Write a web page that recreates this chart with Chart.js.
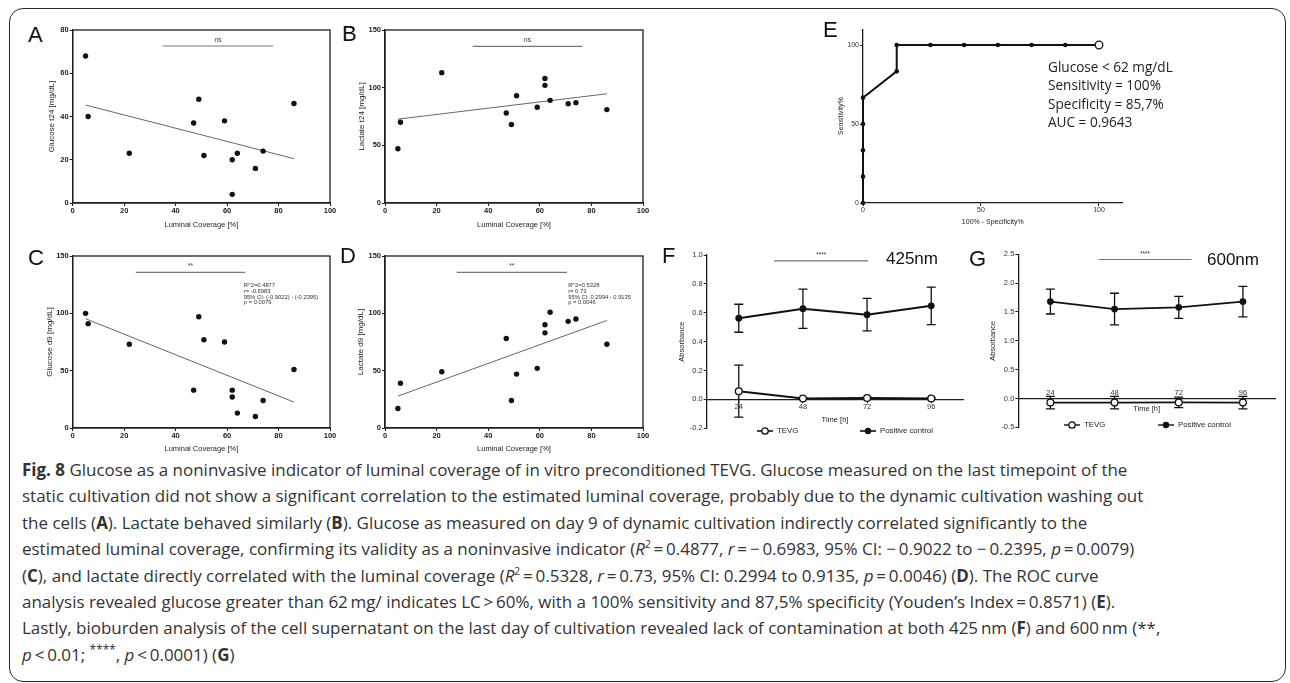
<!DOCTYPE html>
<html>
<head>
<meta charset="utf-8">
<script src="https://cdn.jsdelivr.net/npm/chart.js@4.4.0/dist/chart.umd.min.js"></script>
<style>
  body { margin:0; width:1290px; height:683px; position:relative; overflow:hidden; background:#fff;
         font-family:'Liberation Sans', Arial, sans-serif; color:#222; }
  .frame { position:absolute; left:9px; top:8px; width:1277px; height:674px; border:1.6px solid #2a2a2a;
           border-radius:14px; box-sizing:border-box; }
  canvas { position:absolute; }
  .letter { position:absolute; font-size:22px; line-height:22px; color:#111; }
  .nm { position:absolute; font-size:17px; line-height:17px; color:#111; }
  .roc-text { position:absolute; left:1048px; top:58px; font-family:'Open Sans', sans-serif; font-size:13.6px;
              line-height:18.4px; color:#222; white-space:nowrap; }
  .legend { position:absolute; font-size:7.8px; line-height:10px; white-space:nowrap; color:#222; }
  .legend svg { vertical-align:middle; margin-right:3px; }
  .caption { position:absolute; left:22px; top:457px; font-family:'Open Sans', sans-serif; font-size:16px; color:#333; }
  .caption div { white-space:nowrap; height:26.4px; line-height:26.4px; }
  .caption sup { line-height:0; font-size:0.6em; }
</style>
</head>
<body>
<div class="frame"></div>

<canvas id="chartA"></canvas>
<canvas id="chartB"></canvas>
<canvas id="chartC"></canvas>
<canvas id="chartD"></canvas>
<canvas id="chartE"></canvas>
<canvas id="chartF"></canvas>
<canvas id="chartG"></canvas>

<div class="letter" style="left:28px;top:24px">A</div>
<div class="letter" style="left:342px;top:23px">B</div>
<div class="letter" style="left:28px;top:247px">C</div>
<div class="letter" style="left:340px;top:245px">D</div>
<div class="letter" style="left:823px;top:19px">E</div>
<div class="letter" style="left:662px;top:245px">F</div>
<div class="letter" style="left:969px;top:248px">G</div>

<div class="nm" style="left:886px;top:250px">425nm</div>
<div class="nm" style="left:1207px;top:251px">600nm</div>

<div class="roc-text">
  <div>Glucose &lt; 62 mg/dL</div>
  <div>Sensitivity = 100%</div>
  <div>Specificity = 85,7%</div>
  <div>AUC = 0.9643</div>
</div>

<div class="legend" style="left:756px;top:426px"><svg width="18" height="10"><line x1="1" y1="5" x2="17" y2="5" stroke="#111" stroke-width="1.6"/><circle cx="9" cy="5" r="3.2" fill="#fff" stroke="#111" stroke-width="1.3"/></svg>TEVG</div>
<div class="legend" style="left:859px;top:426px"><svg width="18" height="10"><line x1="1" y1="5" x2="17" y2="5" stroke="#111" stroke-width="1.6"/><circle cx="9" cy="5" r="3.2" fill="#111"/></svg>Positive control</div>
<div class="legend" style="left:1063px;top:420px"><svg width="18" height="10"><line x1="1" y1="5" x2="17" y2="5" stroke="#111" stroke-width="1.4"/><circle cx="9" cy="5" r="3.2" fill="#fff" stroke="#111" stroke-width="1.3"/></svg>TEVG</div>
<div class="legend" style="left:1157px;top:420px"><svg width="18" height="10"><line x1="1" y1="5" x2="17" y2="5" stroke="#111" stroke-width="1.4"/><circle cx="9" cy="5" r="3.2" fill="#111"/></svg>Positive control</div>

<div class="caption">
  <div><span><b>Fig. 8</b> Glucose as a noninvasive indicator of luminal coverage of in vitro preconditioned TEVG. Glucose measured on the last timepoint of the</span></div>
  <div>static cultivation did not show a significant correlation to the estimated luminal coverage, probably due to the dynamic cultivation washing out</div>
  <div>the cells (<b>A</b>). Lactate behaved similarly (<b>B</b>). Glucose as measured on day 9 of dynamic cultivation indirectly correlated significantly to the</div>
  <div>estimated luminal coverage, confirming its validity as a noninvasive indicator (<i>R</i><sup>2</sup>&thinsp;=&thinsp;0.4877, <i>r</i>&thinsp;=&thinsp;−&thinsp;0.6983, 95% CI: −&thinsp;0.9022 to −&thinsp;0.2395, <i>p</i>&thinsp;=&thinsp;0.0079)</div>
  <div>(<b>C</b>), and lactate directly correlated with the luminal coverage (<i>R</i><sup>2</sup>&thinsp;=&thinsp;0.5328, <i>r</i>&thinsp;=&thinsp;0.73, 95% CI: 0.2994 to 0.9135, <i>p</i>&thinsp;=&thinsp;0.0046) (<b>D</b>). The ROC curve</div>
  <div>analysis revealed glucose greater than 62&thinsp;mg/ indicates LC&thinsp;&gt;&thinsp;60%, with a 100% sensitivity and 87,5% specificity (Youden’s Index&thinsp;=&thinsp;0.8571) (<b>E</b>).</div>
  <div>Lastly, bioburden analysis of the cell supernatant on the last day of cultivation revealed lack of contamination at both 425&thinsp;nm (<b>F</b>) and 600&thinsp;nm (**,</div>
  <div><i>p</i>&thinsp;&lt;&thinsp;0.01; <sup style="font-size:0.7em">****</sup>, <i>p</i>&thinsp;&lt;&thinsp;0.0001) (<b>G</b>)</div>
</div>

<script>
// data
const coverage = [5, 6, 22, 47, 49, 51, 59, 62, 62, 64, 71, 74, 86];
const glucoseT24 = [68, 40, 23, 37, 48, 22, 38, 20, 4, 23, 16, 24, 46];
const lactateT24 = [47, 70, 113, 78, 68, 93, 83, 108, 102, 89, 86, 87, 81];
const glucoseD9 = [100, 91, 73, 33, 97, 77, 75, 33, 27, 13, 10, 24, 51];
const lactateD9 = [17, 39, 49, 78, 24, 47, 52, 83, 90, 101, 93, 95, 73];

// regression lines as drawn (ends)
const fitX = [5, 86];
const fitA = [45.3, 20.5];
const fitB = [72.7, 94.7];
const fitC = [95.3, 22.6];
const fitD = [27.8, 93.8];

const noteC = ['R^2=0.4877', 'r= -0.6983', '95% CI: (-0.9022) - (-0.2395)', 'p = 0.0079'];
const noteD = ['R^2=0.5328', 'r= 0.73', '95% CI: 0.2994 - 0.9135', 'p = 0.0046'];

// ROC
const rocFpr = [0, 0, 0, 0, 0, 14.29, 14.29, 28.57, 42.86, 57.14, 71.43, 85.71, 100];
const rocSens = [0, 16.67, 33.33, 50, 66.67, 83.33, 100, 100, 100, 100, 100, 100, 100];

// bioburden
const hours = ['24', '48', '72', '96'];
const tevg425 = [0.057, 0.006, 0.01, 0.006];
const tevg425Sd = [0.18, 0.006, 0.006, 0.006];
const pos425 = [0.562, 0.628, 0.587, 0.648];
const pos425Sd = [0.097, 0.136, 0.113, 0.13];
const tevg600 = [-0.072, -0.072, -0.068, -0.072];
const tevg600Sd = [0.11, 0.11, 0.09, 0.11];
const pos600 = [1.68, 1.55, 1.58, 1.68];
const pos600Sd = [0.215, 0.275, 0.19, 0.265];

Chart.defaults.font.family = "'Liberation Sans', Arial, sans-serif";
Chart.defaults.color = '#222';
const INK = '#1e1e1e';

function place(id, left, top, right, bottom) {
    const cv = document.getElementById(id);
    left = Math.round(left); top = Math.round(top);
    cv.width = Math.round(right - left);
    cv.height = Math.round(bottom - top);
    cv.style.left = left + 'px';
    cv.style.top = top + 'px';
    return { cv, left, top, right: left + cv.width, bottom: top + cv.height };
}

// box around plot area (A-D)
const boxPlugin = {
    id: 'box',
    beforeDatasetsDraw(chart) {
        const { ctx, chartArea: a } = chart;
        ctx.save();
        ctx.strokeStyle = INK;
        ctx.lineWidth = 1.3;
        ctx.strokeRect(a.left, a.top, a.right - a.left, a.bottom - a.top);
        ctx.restore();
    }
};

// significance bar + stats text
function annot(sig, note) {
    return {
        id: 'annot',
        afterDatasetsDraw(chart) {
            const { ctx, scales: { x, y } } = chart;
            ctx.save();
            if (sig) {
                const x1 = x.getPixelForValue(sig.x[0]), x2 = x.getPixelForValue(sig.x[1]);
                const py = y.getPixelForValue(sig.y);
                ctx.strokeStyle = '#777';
                ctx.lineWidth = 1.2;
                ctx.beginPath(); ctx.moveTo(x1, py); ctx.lineTo(x2, py); ctx.stroke();
                ctx.fillStyle = '#333';
                ctx.font = "6.5px 'Liberation Sans'";
                ctx.textAlign = 'center';
                ctx.textBaseline = 'bottom';
                ctx.fillText(sig.text, (x1 + x2) / 2, py - 2.5);
            }
            if (note) {
                const px = x.getPixelForValue(note.x), py = y.getPixelForValue(note.y);
                ctx.fillStyle = '#333';
                ctx.font = "5.8px 'Liberation Sans'";
                ctx.textAlign = 'left';
                ctx.textBaseline = 'middle';
                note.lines.forEach((t, i) => ctx.fillText(t, px, py + i * 5.6));
            }
            ctx.restore();
        }
    };
}

// error bars from dataset.errors
const errorBarPlugin = {
    id: 'errorBars',
    beforeDatasetsDraw(chart) {
        const { ctx, scales: { x, y } } = chart;
        chart.data.datasets.forEach(ds => {
            if (!ds.errors) return;
            ctx.save();
            ctx.strokeStyle = '#111';
            ctx.lineWidth = 1.3;
            ds.data.forEach((v, i) => {
                const e = ds.errors[i];
                const px = x.getPixelForValue(i);
                const t = y.getPixelForValue(v + e), b = y.getPixelForValue(v - e);
                ctx.beginPath();
                ctx.moveTo(px, t); ctx.lineTo(px, b);
                ctx.moveTo(px - 4.5, t); ctx.lineTo(px + 4.5, t);
                ctx.moveTo(px - 4.5, b); ctx.lineTo(px + 4.5, b);
                ctx.stroke();
            });
            ctx.restore();
        });
    }
};

function axisStyle(fontSize, bold) {
    return {
        grid: { drawOnChartArea: false, drawTicks: true, tickLength: 3, color: INK, lineWidth: 1 },
        border: { color: INK, width: 1.3 },
        ticks: { font: { size: fontSize, weight: bold ? 'bold' : 'normal' }, color: '#222', padding: 1, includeBounds: false }
    };
}

function scatterPanel(id, a, ys, fitY, yMax, yStep, yTitle, sig, note) {
    const titleSize = 7.5, lh = titleSize * 1.2;
    const p = place(id, a.yTitleX - lh / 2, a.T - 12, a.R + 12, a.xTitleY + lh / 2);
    const xs = axisStyle(7.5, true), ysx = axisStyle(7.5, true);
    new Chart(p.cv, {
        type: 'scatter',
        data: {
            datasets: [
                { data: coverage.map((x, i) => ({ x, y: ys[i] })), pointRadius: 2.7, pointBackgroundColor: '#111',
                  pointBorderWidth: 0, clip: false },
                { data: fitX.map((x, i) => ({ x, y: fitY[i] })), showLine: true, borderColor: '#666', borderWidth: 1,
                  pointRadius: 0 }
            ]
        },
        options: {
            responsive: false, animation: false, events: [],
            layout: { padding: { top: a.T - p.top, right: p.right - a.R, left: 0, bottom: 0 } },
            plugins: { legend: { display: false }, tooltip: { enabled: false } },
            scales: {
                x: Object.assign(xs, {
                    type: 'linear', min: 0, max: 100,
                    ticks: Object.assign(xs.ticks, { stepSize: 20, padding: 0 }),
                    title: { display: true, text: 'Luminal Coverage [%]', font: { size: titleSize }, padding: 0, color: '#222' },
                    afterFit: s => { s.height = p.bottom - a.B; }
                }),
                y: Object.assign(ysx, {
                    min: 0, max: yMax,
                    ticks: Object.assign(ysx.ticks, { stepSize: yStep }),
                    title: { display: true, text: yTitle, font: { size: 8 }, padding: 0, color: '#222' },
                    afterFit: s => { s.width = a.L - p.left; }
                })
            }
        },
        plugins: [boxPlugin, annot(sig, note)]
    });
}

scatterPanel('chartA', { L: 72.7, T: 30, R: 330, B: 203, yTitleX: 51.5, xTitleY: 224 },
    glucoseT24, fitA, 80, 20, 'Glucose t24 [mg/dL]', { x: [35, 78], y: 72.6, text: 'ns' });
scatterPanel('chartB', { L: 385, T: 30, R: 643, B: 203, yTitleX: 361, xTitleY: 224 },
    lactateT24, fitB, 150, 50, 'Lactate t24 [mg/dL]', { x: [34, 76.5], y: 135.8, text: 'ns' });
scatterPanel('chartC', { L: 72.7, T: 256, R: 330, B: 428, yTitleX: 49.5, xTitleY: 448 },
    glucoseD9, fitC, 150, 50, 'Glucose d9 [mg/dL]', { x: [24.5, 67], y: 135.8, text: '**' },
    { x: 66.5, y: 124, lines: noteC });
scatterPanel('chartD', { L: 385, T: 256, R: 643, B: 428, yTitleX: 360.7, xTitleY: 448 },
    lactateD9, fitD, 150, 50, 'Lactate d9 [mg/dL]', { x: [27.8, 70.5], y: 135.8, text: '**' },
    { x: 71, y: 124, lines: noteD });

// ROC panel
(function () {
    const a = { L: 863, T: 29.2, R: 1122.6, B: 203, yTitleX: 840.7, xTitleY: 221.7 };
    const titleSize = 7, lh = titleSize * 1.2;
    const p = place('chartE', a.yTitleX - lh / 2, a.T - 12, a.R + 12, a.xTitleY + lh / 2);
    const last = rocFpr.length - 1;
    const xs = axisStyle(7, false), ys = axisStyle(7, false);
    new Chart(p.cv, {
        type: 'scatter',
        data: {
            datasets: [{
                data: rocFpr.map((x, i) => ({ x, y: rocSens[i] })),
                showLine: true, borderColor: '#111', borderWidth: 2, clip: false,
                pointRadius: rocFpr.map((_, i) => i === last ? 3.8 : 2.3),
                pointBackgroundColor: rocFpr.map((_, i) => i === last ? '#fff' : '#111'),
                pointBorderColor: '#111',
                pointBorderWidth: rocFpr.map((_, i) => i === last ? 1.3 : 0)
            }]
        },
        options: {
            responsive: false, animation: false, events: [],
            layout: { padding: { top: a.T - p.top, right: p.right - a.R, left: 0, bottom: 0 } },
            plugins: { legend: { display: false }, tooltip: { enabled: false } },
            scales: {
                x: Object.assign(xs, {
                    type: 'linear', min: 0, max: 110,
                    ticks: Object.assign(xs.ticks, { stepSize: 50, padding: 0, color: '#333' }),
                    title: { display: true, text: '100% - Specificity%', font: { size: titleSize }, padding: 0, color: '#222' },
                    afterFit: s => { s.height = p.bottom - a.B; }
                }),
                y: Object.assign(ys, {
                    min: 0, max: 110,
                    ticks: Object.assign(ys.ticks, { stepSize: 50, color: '#333' }),
                    title: { display: true, text: 'Sensitivity%', font: { size: titleSize }, padding: 0, color: '#222' },
                    afterFit: s => { s.width = a.L - p.left; }
                })
            }
        }
    });
})();

// absorbance panels
function absorbancePanel(id, a, tevg, tevgSd, pos, posSd, yMin, yMax, yStep, lineW, labelPad, sig) {
    const lh = 7.5 * 1.2;
    const p = place(id, a.yTitleX - lh / 2, a.T - 12, a.R + 10, a.B + 12);
    const xs = axisStyle(7.5, false), ys = axisStyle(7.5, false);
    new Chart(p.cv, {
        type: 'line',
        data: {
            labels: hours,
            datasets: [
                { label: 'TEVG', data: tevg, errors: tevgSd, borderColor: '#111', borderWidth: lineW,
                  pointRadius: 3.4, pointBackgroundColor: '#fff', pointBorderColor: '#111', pointBorderWidth: 1.3, clip: false },
                { label: 'Positive control', data: pos, errors: posSd, borderColor: '#111', borderWidth: lineW,
                  pointRadius: 3.4, pointBackgroundColor: '#111', pointBorderWidth: 0, clip: false }
            ]
        },
        options: {
            responsive: false, animation: false, events: [],
            layout: { padding: { top: a.T - p.top, right: p.right - a.R, left: 0, bottom: p.bottom - a.B } },
            plugins: { legend: { display: false }, tooltip: { enabled: false } },
            scales: {
                x: Object.assign(xs, {
                    type: 'category', offset: true, position: { y: 0 },
                    grid: Object.assign(xs.grid, { offset: false }),
                    ticks: Object.assign(xs.ticks, { padding: labelPad, color: '#333' }),
                    title: { display: true, text: 'Time [h]', font: { size: 7.5 }, padding: 0, color: '#222' },
                    afterFit: s => { s.height = a.xTitleY - a.zeroY + lh / 2; }
                }),
                y: Object.assign(ys, {
                    min: yMin, max: yMax,
                    ticks: Object.assign(ys.ticks, {
                        stepSize: yStep, color: '#333',
                        callback: v => (Math.abs(v) < 1e-9 ? 0 : v).toFixed(1)
                    }),
                    title: { display: true, text: 'Absorbance', font: { size: 7.5 }, padding: 0, color: '#222' },
                    afterFit: s => { s.width = a.L - p.left; }
                })
            }
        },
        plugins: [errorBarPlugin, annot(sig)]
    });
}

absorbancePanel('chartF', { L: 706.7, T: 255, R: 963.3, B: 428.3, yTitleX: 681.7, xTitleY: 420, zeroY: 399 },
    tevg425, tevg425Sd, pos425, pos425Sd, -0.2, 1.0, 0.2, 2, 0.5, { x: [0.55, 2.02], y: 0.96, text: '****' });
absorbancePanel('chartG', { L: 1018.3, T: 254.3, R: 1275, B: 427.3, yTitleX: 992.3, xTitleY: 409, zeroY: 399 },
    tevg600, tevg600Sd, pos600, pos600Sd, -0.5, 2.5, 0.5, 1.6, -13.2, { x: [0.75, 2.2], y: 2.41, text: '****' });

// fit caption font so the first line spans like the original
const cap = document.querySelector('.caption');
const firstLine = cap.querySelector('span');
const w = firstLine.getBoundingClientRect().width;
cap.style.fontSize = (16 * 1106 / w) + 'px';
</script>
</body>
</html>
